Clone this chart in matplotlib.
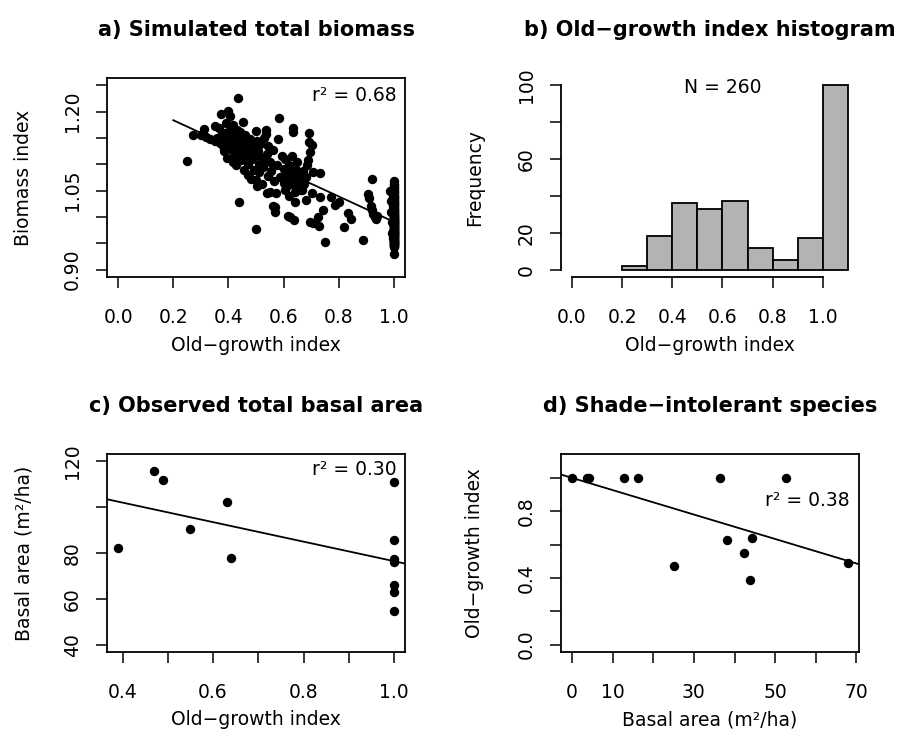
import numpy as np
import matplotlib
matplotlib.use('Agg')
import matplotlib.pyplot as plt

plt.rcParams['font.family'] = 'DejaVu Sans'

# a) simulated stands below full old-growth status
sim_og = [
    0.25, 0.27,
    0.31, 0.30, 0.32, 0.335, 0.35, 0.353, 0.367, 0.37, 0.373, 0.375, 0.38, 0.385,
    0.388, 0.39, 0.392, 0.395, 0.398, 0.36,
    0.40, 0.404, 0.405, 0.408, 0.41, 0.412, 0.415, 0.418, 0.42, 0.422, 0.425, 0.428,
    0.43, 0.432, 0.436, 0.438, 0.44, 0.44, 0.443, 0.445, 0.448, 0.452, 0.455, 0.458,
    0.46, 0.463, 0.466, 0.47, 0.472, 0.475, 0.478, 0.482, 0.485, 0.49, 0.493, 0.497,
    0.50, 0.50, 0.50, 0.502, 0.505, 0.508, 0.51, 0.512, 0.515, 0.52, 0.522, 0.525,
    0.53, 0.536, 0.537, 0.538, 0.54, 0.542, 0.545, 0.549, 0.55, 0.555, 0.56, 0.562,
    0.565, 0.567, 0.57, 0.573, 0.575, 0.58, 0.582, 0.588, 0.595,
    0.60, 0.602, 0.604, 0.606, 0.61, 0.612, 0.615, 0.618, 0.62, 0.622, 0.625, 0.628,
    0.63, 0.633, 0.634, 0.636, 0.638, 0.64, 0.642, 0.645, 0.648, 0.65, 0.655, 0.66,
    0.663, 0.667, 0.67, 0.672, 0.675, 0.68, 0.682, 0.685, 0.689, 0.691, 0.693, 0.695,
    0.697,
    0.702, 0.703, 0.705, 0.708, 0.725, 0.728, 0.731, 0.733, 0.742, 0.749, 0.77, 0.787,
    0.802, 0.818, 0.833, 0.845, 0.888,
    0.905, 0.91, 0.915, 0.919, 0.922, 0.925, 0.93, 0.935, 0.94, 0.985, 0.988, 0.99,
    0.992, 0.994, 0.996, 0.997, 0.998,
]
sim_biomass = [
    1.106, 1.155,
    1.168, 1.155, 1.152, 1.148, 1.172, 1.145, 1.169, 1.140, 1.196, 1.158, 1.135, 1.125,
    1.160, 1.148, 1.178, 1.112, 1.138, 1.150,
    1.201, 1.191, 1.165, 1.150, 1.140, 1.128, 1.105, 1.175, 1.158, 1.118, 1.145, 1.098,
    1.165, 1.135, 1.226, 1.152, 1.028, 1.120, 1.162, 1.108, 1.142, 1.180, 1.130, 1.090,
    1.155, 1.115, 1.138, 1.080, 1.100, 1.125, 1.148, 1.072, 1.110, 1.132, 1.090, 1.118,
    0.978, 1.164, 1.071, 1.058, 1.145, 1.125, 1.100, 1.085, 1.138, 1.112, 1.062, 1.095,
    1.150, 1.166, 1.157, 1.045, 1.120, 1.078, 1.135, 1.048, 1.105, 1.088, 1.020, 1.128,
    1.068, 1.019, 1.010, 1.045, 1.098, 1.148, 1.188, 1.075, 1.115,
    1.092, 1.065, 1.051, 1.110, 1.057, 1.078, 1.001, 1.098, 1.040, 1.000, 1.085, 1.062,
    1.115, 1.169, 1.162, 0.994, 1.072, 1.028, 1.048, 1.090, 1.105, 1.058, 1.080, 1.068,
    1.052, 1.051, 1.070, 1.088, 1.062, 1.075, 1.032, 1.098, 1.108, 1.159, 1.142, 1.124,
    0.990,
    1.137, 1.045, 0.988, 1.086, 1.000, 0.982, 1.083, 1.038, 1.013, 0.952, 1.038, 1.022,
    1.028, 0.981, 1.008, 0.997, 0.957,
    1.043, 1.036, 1.020, 1.014, 1.072, 1.006, 1.000, 0.996, 1.002, 1.050, 1.030, 1.010,
    0.990, 0.970, 1.040, 0.960, 1.020,
]
# simulated stands with old-growth index = 1.0
full_og = 1.0
full_biomass = [
    1.068, 1.063, 1.060, 1.057, 1.055, 1.052, 1.049, 1.047, 1.045, 1.042,
    1.040, 1.038, 1.037, 1.034, 1.032, 1.031, 1.029, 1.027, 1.026, 1.024,
    1.022, 1.021, 1.019, 1.018, 1.016, 1.014, 1.013, 1.011, 1.010, 1.008,
    1.007, 1.005, 1.004, 1.003, 1.001, 1.000, 0.999, 0.998, 0.996, 0.995,
    0.994, 0.993, 0.992, 0.991, 0.990, 0.989, 0.988, 0.987, 0.986, 0.985,
    0.984, 0.983, 0.982, 0.981, 0.980, 0.979, 0.978, 0.977, 0.976, 0.975,
    0.974, 0.973, 0.972, 0.971, 0.970, 0.969, 0.968, 0.967, 0.966, 0.965,
    0.964, 0.963, 0.962, 0.961, 0.960, 0.959, 0.958, 0.957, 0.956, 0.955,
    0.954, 0.953, 0.952, 0.951, 0.950, 0.949, 0.948, 0.947, 0.946, 0.945,
    0.944, 0.943, 1.002, 0.997, 0.989, 0.981, 0.972, 0.963, 0.951, 0.929,
]

# b) histogram of the simulated old-growth index
hist_edges = [0.2, 0.3, 0.4, 0.5, 0.6, 0.7, 0.8, 0.9, 1.0, 1.1]
hist_counts = [2, 18, 36, 33, 37, 12, 5, 17, 100]

# c/d) field plots
plot_og = [0.39, 0.47, 0.49, 0.55, 0.63, 0.64, 1.0, 1.0, 1.0, 1.0, 1.0, 1.0, 1.0]
plot_basal = [82.1, 115.9, 111.8, 90.6, 102.2, 78.0, 110.8, 85.8, 77.2, 76.0, 66.2, 62.9, 54.8]
plot_intol_basal = [43.8, 25.1, 67.9, 42.3, 38.2, 44.2, 0.0, 3.6, 4.3, 12.7, 16.2, 36.3, 52.7]

r2_labels = {'a': 'r\u00b2 = 0.68', 'c': 'r\u00b2 = 0.30', 'd': 'r\u00b2 = 0.38'}
MINUS = '\u2212'

FS = 13.5
LW = 1.3
DOT = 46


def style_axis(ax, xticks, xlabels, yticks, ylabels, xlabel, ylabel, title, ylab_x):
    ax.set_xticks(xticks)
    ax.set_xticklabels(xlabels)
    ax.set_yticks(yticks)
    ax.set_yticklabels(ylabels, rotation=90, va='center')
    ax.tick_params(direction='out', length=8, width=1.1, labelsize=FS)
    ax.tick_params(axis='x', pad=14)
    ax.tick_params(axis='y', pad=10)
    for sp in ax.spines.values():
        sp.set_linewidth(LW)
    ax.set_xlabel(xlabel, fontsize=FS)
    ax.set_ylabel(ylabel, fontsize=FS)
    ax.xaxis.set_label_coords(0.5, -0.342)
    ax.xaxis.label.set_va('center')
    ax.yaxis.set_label_coords(ylab_x, 0.5)
    ax.yaxis.label.set_va('center')
    ax.set_title(title, fontsize=15, fontweight='bold', pad=30)


def fmt(vals, shown, f):
    return [f(v) if any(abs(v - s) < 1e-9 for s in shown) else '' for v in vals]


fig = plt.figure(figsize=(8.98, 7.33), dpi=100)
ax_a = fig.add_axes([0.1192, 0.6221, 0.3318, 0.2715])
ax_b = fig.add_axes([0.6247, 0.6221, 0.3318, 0.2715])
ax_c = fig.add_axes([0.1192, 0.1105, 0.3318, 0.2701])
ax_d = fig.add_axes([0.6247, 0.1105, 0.3318, 0.2701])

# a) simulated biomass vs old-growth index
all_og = np.array(sim_og + [full_og] * len(full_biomass))
all_bio = np.array(sim_biomass + full_biomass)
ax_a.scatter(all_og, all_bio, s=DOT, color='black', linewidths=0, zorder=3)
slope, icpt = np.polyfit(all_og, all_bio, 1)
xs = np.array([hist_edges[0], all_og.max()])
ax_a.plot(xs, icpt + slope * xs, color='black', lw=1.3, zorder=4)
ax_a.set_xlim(-0.04, 1.04)
ax_a.set_ylim(0.886, 1.264)
xt = [0.0, 0.2, 0.4, 0.6, 0.8, 1.0]
yt = [0.90, 0.95, 1.00, 1.05, 1.10, 1.15, 1.20, 1.25]
style_axis(ax_a, xt, [f'{v:.1f}' for v in xt], yt,
           fmt(yt, [0.90, 1.05, 1.20], lambda v: f'{v:.2f}'),
           'Old' + MINUS + 'growth index', 'Biomass index',
           'a) Simulated total biomass', -0.28)
ax_a.text(0.973, 0.912, r2_labels['a'], transform=ax_a.transAxes,
          ha='right', va='center', fontsize=FS)

# b) histogram
ax_b.bar(hist_edges[:-1], hist_counts, width=np.diff(hist_edges), align='edge',
         color='#b3b3b3', edgecolor='black', linewidth=LW, zorder=2)
ax_b.set_xlim(-0.044, 1.144)
ax_b.set_ylim(-4, 104)
ax_b.spines['top'].set_visible(False)
ax_b.spines['right'].set_visible(False)
ax_b.spines['left'].set_bounds(0, 100)
ax_b.spines['bottom'].set_bounds(0, 1.0)
yt = [0, 20, 40, 60, 80, 100]
style_axis(ax_b, xt, [f'{v:.1f}' for v in xt], yt,
           fmt(yt, [0, 20, 60, 100], lambda v: f'{v:.0f}'),
           'Old' + MINUS + 'growth index', 'Frequency',
           'b) Old' + MINUS + 'growth index histogram', -0.29)
ax_b.text(0.6, 99, f'N = {sum(hist_counts)}', ha='center', va='center', fontsize=FS)

# c) observed basal area vs old-growth index
og = np.array(plot_og)
ba = np.array(plot_basal)
ax_c.scatter(og, ba, s=DOT, color='black', linewidths=0, zorder=3)
slope, icpt = np.polyfit(og, ba, 1)
ax_c.axline((0, icpt), slope=slope, color='black', lw=1.3, zorder=4)
pad = (og.max() - og.min()) * 0.04
ax_c.set_xlim(og.min() - pad, og.max() + pad)
ax_c.set_ylim(36.8, 123.2)
xt = [0.4, 0.5, 0.6, 0.7, 0.8, 0.9, 1.0]
yt = [40, 60, 80, 100, 120]
style_axis(ax_c, xt, fmt(xt, [0.4, 0.6, 0.8, 1.0], lambda v: f'{v:.1f}'), yt,
           fmt(yt, [40, 60, 80, 120], lambda v: f'{v:.0f}'),
           'Old' + MINUS + 'growth index', 'Basal area (m\u00b2/ha)',
           'c) Observed total basal area', -0.28)
ax_c.text(0.973, 0.922, r2_labels['c'], transform=ax_c.transAxes,
          ha='right', va='center', fontsize=FS)

# d) shade-intolerant basal area vs old-growth index
bi = np.array(plot_intol_basal)
ax_d.scatter(bi, og, s=DOT, color='black', linewidths=0, zorder=3)
slope, icpt = np.polyfit(bi, og, 1)
ax_d.axline((0, icpt), slope=slope, color='black', lw=1.3, zorder=4)
pad = (bi.max() - bi.min()) * 0.04
ax_d.set_xlim(bi.min() - pad, bi.max() + pad)
ax_d.set_ylim(-0.044, 1.144)
xt = [0, 10, 20, 30, 40, 50, 60, 70]
yt = [0.0, 0.2, 0.4, 0.6, 0.8, 1.0]
style_axis(ax_d, xt, fmt(xt, [0, 10, 30, 50, 70], lambda v: f'{v:.0f}'), yt,
           fmt(yt, [0.0, 0.4, 0.8], lambda v: f'{v:.1f}'),
           'Basal area (m\u00b2/ha)', 'Old' + MINUS + 'growth index',
           'd) Shade' + MINUS + 'intolerant species', -0.29)
ax_d.text(0.97, 0.765, r2_labels['d'], transform=ax_d.transAxes,
          ha='right', va='center', fontsize=FS)

fig.savefig('out.png', dpi=100)
